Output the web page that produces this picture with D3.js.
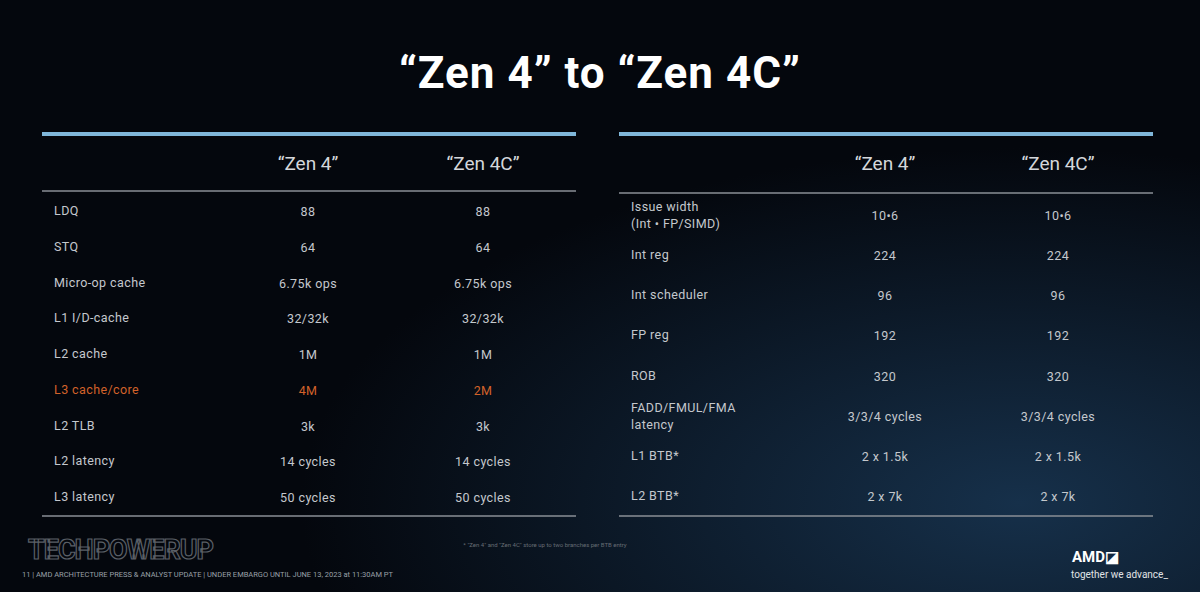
<!DOCTYPE html>
<html>
<head>
<meta charset="utf-8">
<script src="https://cdn.jsdelivr.net/npm/d3@7"></script>
<style>
  body { margin: 0; background: #04070d; }
  svg { display: block; font-family: Roboto, "Open Sans", sans-serif; }
</style>
</head>
<body>
<svg id="chart" width="1200" height="592"></svg>
<script>
// table data
const columns = ['“Zen 4”', '“Zen 4C”'];

const leftLabels = ['LDQ', 'STQ', 'Micro-op cache', 'L1 I/D-cache', 'L2 cache',
  'L3 cache/core', 'L2 TLB', 'L2 latency', 'L3 latency'];
const leftZen4 = ['88', '64', '6.75k ops', '32/32k', '1M', '4M', '3k', '14 cycles', '50 cycles'];
const leftZen4c = ['88', '64', '6.75k ops', '32/32k', '1M', '2M', '3k', '14 cycles', '50 cycles'];
const highlightRow = 'L3 cache/core';

const rightLabels = [['Issue width', '(Int • FP/SIMD)'], ['Int reg'], ['Int scheduler'], ['FP reg'],
  ['ROB'], ['FADD/FMUL/FMA', 'latency'], ['L1 BTB*'], ['L2 BTB*']];
const rightZen4 = ['10•6', '224', '96', '192', '320', '3/3/4 cycles', '2 x 1.5k', '2 x 7k'];
const rightZen4c = ['10•6', '224', '96', '192', '320', '3/3/4 cycles', '2 x 1.5k', '2 x 7k'];

const svg = d3.select('#chart');

// background
const defs = svg.append('defs');
const grad = defs.append('radialGradient').attr('id', 'bg')
    .attr('cx', '85%').attr('cy', '85%').attr('r', '60%');
grad.append('stop').attr('offset', '0%').attr('stop-color', '#16304a');
grad.append('stop').attr('offset', '100%').attr('stop-color', '#04070d');
svg.append('rect').attr('width', 1200).attr('height', 592).attr('fill', 'url(#bg)');

svg.append('text')
    .attr('x', 600).attr('y', 88)
    .attr('text-anchor', 'middle')
    .attr('fill', '#ffffff')
    .attr('font-size', 44).attr('font-weight', 'bold')
    .attr('letter-spacing', 1)
    .text('“Zen 4” to “Zen 4C”');

function drawTable(cfg) {
  const g = svg.append('g');
  g.append('rect').attr('x', cfg.x0).attr('y', 132).attr('width', cfg.x1 - cfg.x0).attr('height', 4)
      .attr('fill', '#7fb6d9');
  g.append('line').attr('x1', cfg.x0).attr('x2', cfg.x1).attr('y1', cfg.sepY).attr('y2', cfg.sepY)
      .attr('stroke', '#8a8f96').attr('stroke-width', 1.5);
  g.append('line').attr('x1', cfg.x0).attr('x2', cfg.x1).attr('y1', 516).attr('y2', 516)
      .attr('stroke', '#8a8f96').attr('stroke-width', 1.5);

  const x = d3.scaleOrdinal().domain(columns).range(cfg.colX);
  g.selectAll('.hdr').data(columns).join('text')
      .attr('x', d => x(d)).attr('y', 170)
      .attr('text-anchor', 'middle').attr('fill', '#d4d7db').attr('font-size', 19)
      .text(d => d);

  const y = d3.scalePoint().domain(d3.range(cfg.labels.length)).range(cfg.yRange);
  const rows = g.selectAll('.row').data(cfg.labels).join('g')
      .attr('transform', (d, i) => `translate(0,${y(i)})`);
  rows.each(function(d, i) {
    const row = d3.select(this);
    const lines = Array.isArray(d) ? d : [d];
    const color = lines[0] === highlightRow ? '#d2622a' : '#c4c8cd';
    row.append('text').attr('x', cfg.x0 + 12).attr('fill', color).attr('font-size', 12.5)
        .attr('letter-spacing', 0.4)
        .selectAll('tspan').data(lines).join('tspan')
        .attr('x', cfg.x0 + 12)
        .attr('dy', (l, j) => j === 0 ? (lines.length > 1 ? -4 : 4) : 17)
        .text(l => l);
    [cfg.v4[i], cfg.v4c[i]].forEach((v, k) => {
      row.append('text').attr('x', x(columns[k])).attr('y', 5)
          .attr('text-anchor', 'middle').attr('fill', color).attr('font-size', 12.5)
          .attr('letter-spacing', 0.4).text(v);
    });
  });
}

drawTable({x0: 42, x1: 576, sepY: 191, colX: [308, 483], yRange: [211, 497],
  labels: leftLabels, v4: leftZen4, v4c: leftZen4c});
drawTable({x0: 619, x1: 1153, sepY: 193, colX: [885, 1058], yRange: [215, 496],
  labels: rightLabels, v4: rightZen4, v4c: rightZen4c});

// footnote & footer
svg.append('text').attr('x', 545).attr('y', 547).attr('text-anchor', 'middle')
    .attr('fill', '#666c74').attr('font-size', 6)
    .text('* "Zen 4" and "Zen 4C" store up to two branches per BTB entry');
svg.append('text').attr('x', 22).attr('y', 577).attr('fill', '#9aa0a8').attr('font-size', 7.5)
    .text('11    |    AMD ARCHITECTURE PRESS & ANALYST UPDATE  |  UNDER EMBARGO UNTIL JUNE 13, 2023 at 11:30AM PT');
svg.append('text').attr('x', 28).attr('y', 559).attr('fill', 'none')
    .attr('stroke', '#5a5f66').attr('stroke-width', 1.2)
    .attr('font-size', 27).attr('font-weight', 'bold').attr('letter-spacing', -1)
    .text('TECHPOWERUP');
svg.append('text').attr('x', 1072).attr('y', 562).attr('fill', '#ffffff')
    .attr('font-size', 15).attr('font-weight', 'bold').text('AMD◪');
svg.append('text').attr('x', 1071).attr('y', 578).attr('fill', '#e0e3e6')
    .attr('font-size', 10).text('together we advance_');
</script>
</body>
</html>
